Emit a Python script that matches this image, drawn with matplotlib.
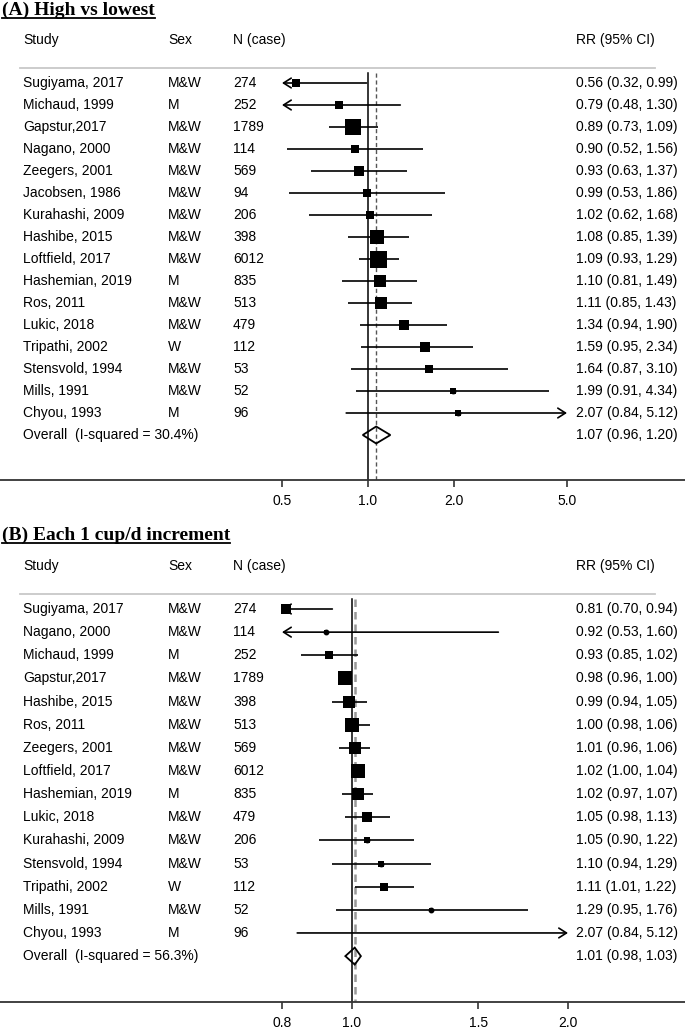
import numpy as np
import matplotlib
matplotlib.use("Agg")
import matplotlib.pyplot as plt
from matplotlib.lines import Line2D
from matplotlib.transforms import blended_transform_factory

W, H = 685, 1029                      # размер картинки в пикселях
SANS = "Liberation Sans"
SERIF = "Liberation Serif"

# Панель A: high vs lowest
a_study = ["Sugiyama, 2017", "Michaud, 1999", "Gapstur,2017", "Nagano, 2000", "Zeegers, 2001",
           "Jacobsen, 1986", "Kurahashi, 2009", "Hashibe, 2015", "Loftfield, 2017", "Hashemian, 2019",
           "Ros, 2011", "Lukic, 2018", "Tripathi, 2002", "Stensvold, 1994", "Mills, 1991", "Chyou, 1993"]
a_sex = ["M&W", "M", "M&W", "M&W", "M&W", "M&W", "M&W", "M&W", "M&W", "M", "M&W", "M&W", "W", "M&W", "M&W", "M"]
a_n = [274, 252, 1789, 114, 569, 94, 206, 398, 6012, 835, 513, 479, 112, 53, 52, 96]
a_rr = [0.56, 0.79, 0.89, 0.90, 0.93, 0.99, 1.02, 1.08, 1.09, 1.10, 1.11, 1.34, 1.59, 1.64, 1.99, 2.07]
a_lo = [0.32, 0.48, 0.73, 0.52, 0.63, 0.53, 0.62, 0.85, 0.93, 0.81, 0.85, 0.94, 0.95, 0.87, 0.91, 0.84]
a_hi = [0.99, 1.30, 1.09, 1.56, 1.37, 1.86, 1.68, 1.39, 1.29, 1.49, 1.43, 1.90, 2.34, 3.10, 4.34, 5.12]
a_weight = [4.0, 4.0, 12.7, 4.0, 6.0, 3.2, 4.0, 11.2, 14.4, 8.4, 8.4, 6.0, 6.0, 3.2, 2.4, 1.8]
a_overall = [1.07, 0.96, 1.20]
a_i2 = 30.4
a_ticks = [0.5, 1.0, 2.0, 5.0]

# Панель B: each 1 cup/d increment
b_study = ["Sugiyama, 2017", "Nagano, 2000", "Michaud, 1999", "Gapstur,2017", "Hashibe, 2015",
           "Ros, 2011", "Zeegers, 2001", "Loftfield, 2017", "Hashemian, 2019", "Lukic, 2018",
           "Kurahashi, 2009", "Stensvold, 1994", "Tripathi, 2002", "Mills, 1991", "Chyou, 1993"]
b_sex = ["M&W", "M&W", "M", "M&W", "M&W", "M&W", "M&W", "M&W", "M", "M&W", "M&W", "M&W", "W", "M&W", "M"]
b_n = [274, 114, 252, 1789, 398, 513, 569, 6012, 835, 479, 206, 53, 112, 52, 96]
b_rr = [0.81, 0.92, 0.93, 0.98, 0.99, 1.00, 1.01, 1.02, 1.02, 1.05, 1.05, 1.10, 1.11, 1.29, 2.07]
b_lo = [0.70, 0.53, 0.85, 0.96, 0.94, 0.98, 0.96, 1.00, 0.97, 0.98, 0.90, 0.94, 1.01, 0.95, 0.84]
b_hi = [0.94, 1.60, 1.02, 1.00, 1.05, 1.06, 1.06, 1.04, 1.07, 1.13, 1.22, 1.29, 1.22, 1.76, 5.12]
b_weight = [6.1, 1.2, 4.8, 14.7, 9.1, 12.7, 9.1, 12.7, 10.8, 7.5, 1.9, 2.7, 4.8, 1.2, 0.7]
b_overall = [1.01, 0.98, 1.03]
b_i2 = 56.3
b_ticks = [0.8, 1.0, 1.5, 2.0]

# Колонки текста (пиксели по x)
COL_STUDY, COL_SEX, COL_N, COL_RR = 23, 168, 233, 576


def px_to_pt(p):
    return p * 72.0 / 100.0


# Отрисовка одной панели
def draw_panel(fig, title, lay, study, sex, n, rr, lo, hi, weight, overall, i2, ticks):
    top, bot, row0, step = lay["top"], lay["bot"], lay["row0"], lay["step"]
    ax = fig.add_axes([0, 1 - bot / H, 1, (bot - top) / H])

    def yi(p):                                   # пиксель -> номер строки
        return (p - row0) / step

    # лог-шкала: концы обрезки (clip) приходятся на заданные пиксели
    c0, c1 = lay["clip"]
    p0, p1 = lay["clip_px"]
    k = (p1 - p0) / np.log(c1 / c0)
    ax.set_xscale("log")
    ax.set_xlim(c0 * np.exp(-p0 / k), c0 * np.exp((W - p0) / k))
    ax.set_ylim(yi(bot), yi(top))

    tr = blended_transform_factory(ax.transAxes, ax.transData)
    fs = 10

    # заголовок и шапка
    t = fig.text(2 / W, 1 - lay["title"] / H, title, fontsize=14, fontweight="bold",
                 family=SERIF, va="baseline", ha="left")
    fig.canvas.draw()
    bb = t.get_window_extent(fig.canvas.get_renderer())
    uy = 1 - (lay["title"] + 2.5) / H
    fig.add_artist(Line2D([bb.x0 / W, bb.x1 / W], [uy, uy], color="black", lw=1.3,
                          transform=fig.transFigure))

    yh = yi(lay["head"])
    for x, s in [(COL_STUDY, "Study"), (COL_SEX, "Sex"), (COL_N, "N (case)"), (COL_RR, "RR (95% CI)")]:
        ax.text(x / W, yh, s, transform=tr, fontsize=fs, family=SANS, va="center", ha="left")
    ys = yi(lay["sep"])
    ax.plot([20 / W, 655 / W], [ys, ys], color="#c8c8c8", lw=1.3, transform=tr, clip_on=False)

    # вертикальные линии: 1.0 и общая оценка
    yv = [yi(lay["sep"] + 5), yi(bot)]
    ax.plot([1, 1], yv, color="black", lw=1.1, zorder=2)
    ax.plot([overall[0]] * 2, yv, color=lay["dash_color"], lw=lay["dash_lw"],
            linestyle=(0, (3, 2)), zorder=2)

    wmax = max(weight)
    for i in range(len(study)):
        ax.text(COL_STUDY / W, i, study[i], transform=tr, fontsize=fs, family=SANS, va="center")
        ax.text(COL_SEX / W, i, sex[i], transform=tr, fontsize=fs, family=SANS, va="center")
        ax.text(COL_N / W, i, str(n[i]), transform=tr, fontsize=fs, family=SANS, va="center")
        ax.text(COL_RR / W, i, f"{rr[i]:.2f} ({lo[i]:.2f}, {hi[i]:.2f})", transform=tr,
                fontsize=fs, family=SANS, va="center")

        l, h = max(lo[i], c0), min(hi[i], c1)
        cut_l, cut_h = lo[i] < c0, hi[i] > c1
        if cut_l or cut_h:
            style = {(True, False): "<-", (False, True): "->", (True, True): "<->"}[(cut_l, cut_h)]
            ax.annotate("", xy=(h, i), xytext=(l, i),
                        arrowprops=dict(arrowstyle=style + ",head_length=0.55,head_width=0.35",
                                        lw=1.2, color="black", shrinkA=0, shrinkB=0,
                                        mutation_scale=10), zorder=3)
        else:
            ax.plot([l, h], [i, i], color="black", lw=1.2, solid_capstyle="butt", zorder=3)

        if c0 <= rr[i] <= c1:
            side = px_to_pt(lay["box_max"] * np.sqrt(weight[i] / wmax))
            ax.scatter([rr[i]], [i], marker="s", s=side ** 2, color="black", linewidths=0, zorder=4)
            ax.plot([rr[i]], [i], marker="o", markersize=3.2, color="black", zorder=5)

    # общая оценка
    yo = len(study)
    hd = 8.5 / step
    ax.fill([overall[1], overall[0], overall[2], overall[0]], [yo, yo - hd, yo, yo + hd],
            facecolor="none", edgecolor="black", lw=1.3, zorder=4)
    ax.text(COL_STUDY / W, yo, f"Overall  (I-squared = {i2:.1f}%)", transform=tr, fontsize=fs,
            family=SANS, va="center")
    ax.text(COL_RR / W, yo, f"{overall[0]:.2f} ({overall[1]:.2f}, {overall[2]:.2f})", transform=tr,
            fontsize=fs, family=SANS, va="center")

    # ось
    for s in ["top", "left", "right"]:
        ax.spines[s].set_visible(False)
    ax.spines["bottom"].set_color("#333333")
    ax.spines["bottom"].set_linewidth(1.3)
    ax.set_xticks(ticks)
    ax.set_xticklabels([f"{v:.1f}" for v in ticks], family=SANS, fontsize=fs)
    ax.xaxis.set_minor_locator(matplotlib.ticker.NullLocator())
    ax.tick_params(axis="x", length=5, width=1.2, color="#333333", pad=5)
    ax.set_yticks([])
    ax.patch.set_visible(False)
    return ax


fig = plt.figure(figsize=(W / 100, H / 100), dpi=100)

lay_a = dict(top=22, bot=480, row0=83, step=22.0, head=40, sep=68, title=15,
             clip=(0.5, 5.0), clip_px=(282, 567), box_max=17, dash_color="#555555", dash_lw=1.0)
lay_b = dict(top=545, bot=1002, row0=609, step=23.14, head=566, sep=594, title=540,
             clip=(0.8, 2.0), clip_px=(282, 568), box_max=14, dash_color="#999999", dash_lw=1.8)

draw_panel(fig, "(A) High vs lowest", lay_a, a_study, a_sex, a_n, a_rr, a_lo, a_hi,
           a_weight, a_overall, a_i2, a_ticks)
draw_panel(fig, "(B) Each 1 cup/d increment", lay_b, b_study, b_sex, b_n, b_rr, b_lo, b_hi,
           b_weight, b_overall, b_i2, b_ticks)

fig.savefig("out.png", dpi=100)
